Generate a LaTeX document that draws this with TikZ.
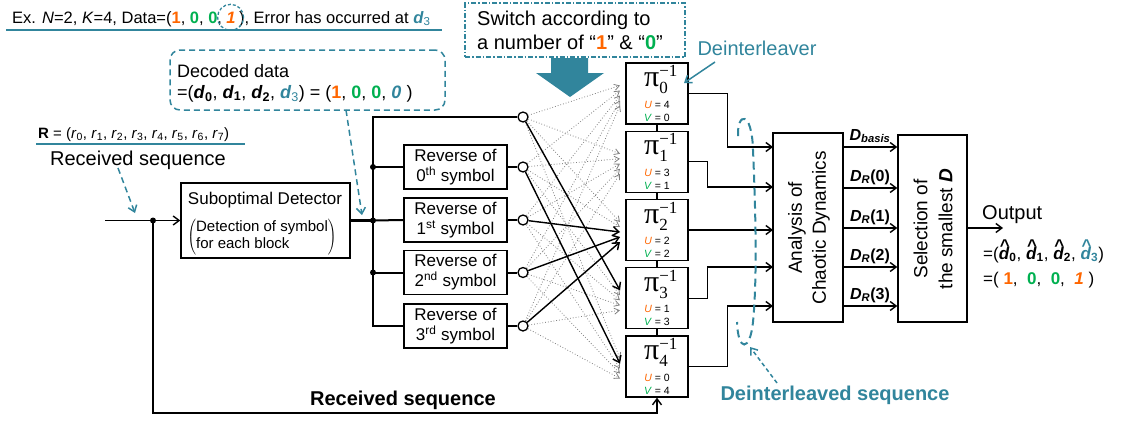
\documentclass[tikz,border=0pt]{standalone}
\usepackage{fontspec}
\setmainfont{Liberation Sans}
\newfontfamily\serifgr{Liberation Serif}
\usetikzlibrary{arrows.meta}
\definecolor{teal1}{RGB}{49,133,156}
\definecolor{orng}{RGB}{255,102,0}
\definecolor{grn}{RGB}{0,176,80}
\newcommand\fs[2]{\fontsize{#1}{#2}\selectfont}
\newcommand\bo{{\color{orng}\textbf{1}}}
\newcommand\bz{{\color{grn}\textbf{0}}}
\newcommand\bio{{\color{orng}\textbf{\textit{1}}}}
\newcommand\bd[1]{\textbf{\textit{d}}\textsubscript{\textbf{#1}}}
\newcommand\hatd[1]{\ooalign{\textbf{\textit{d}}\cr\hidewidth\kern1.5pt\raisebox{0.45em}{\textbf{\textasciicircum}}\hidewidth\cr}\textsubscript{\textbf{#1}}}
\newcommand\piinv[1]{{\serifgr\fs{30}{30}π}\rlap{\raisebox{10pt}{\serifgr\fs{17}{17}−1}}\raisebox{-7pt}{\serifgr\fs{17}{17}#1}}
\begin{document}
\begin{tikzpicture}[x=1pt,y=-1pt,
  box/.style={draw, line width=1.4pt, inner sep=0},
  ln/.style={line width=1.4pt},
  arr/.style={line width=1.4pt, -{Straight Barb[length=6pt,width=9pt]}},
  gra/.style={gray, dotted, line width=0.8pt, -{Straight Barb[length=5pt,width=6pt]}},
  tdash/.style={teal1, dash pattern=on 6pt off 4pt, line width=1.5pt},
  dot/.style={circle, fill, inner sep=0, minimum size=6pt},
  sw/.style={circle, draw, fill=white, line width=1.3pt, inner sep=0, minimum size=10pt},
  txt/.style={inner sep=0}]
\useasboundingbox (0,0) rectangle (1127,421);

% top line
\node[txt, anchor=base west, font=\fs{16.5}{20}] (ex1) at (12,23) {Ex. \textit{N}=2, \textit{K}=4, Data=(\bo, \bz, \bz,};
\node[txt, anchor=base west, font=\fs{16.5}{20}] (one) at (ex1.base east) {\kern4pt\bio\kern3pt};
\node[txt, anchor=base west, font=\fs{16.5}{20}] (ex2) at (one.base east) {), Error has occurred at {\color{teal1}\textbf{\textit{d}}\textsubscript{3}}};
\draw[teal1, dash pattern=on 3pt off 2pt, line width=1.3pt] (one.center) circle[radius=13pt];
\draw[teal1, line width=2.5pt] (6,30) -- (442,30);

% switch box and big arrow
\node[draw=teal1, line width=1.2pt, dash pattern=on 5pt off 2pt on 1.5pt off 2pt, minimum width=220pt, minimum height=54pt, inner sep=0] (sw) at (575,30) {};
\node[txt, anchor=west, align=left, font=\fs{20}{24}] (swt) at (477,30) {Switch according to\\a number of “{\color{orng}\textbf{1}}” \& “{\color{grn}\textbf{0}}”};
\fill[teal1] (551,58) -- (588,58) -- (588,73) -- (604,73) -- (570,97) -- (536,73) -- (551,73) -- cycle;

% decoded data
\node[tdash, draw, rounded corners=10pt, minimum width=275pt, minimum height=60pt, inner sep=0] (dec) at (307.5,80) {};
\node[txt, anchor=west, align=left, font=\fs{18}{21}] (dect) at (177,83) {Decoded data\\=(\bd{0}, \bd{1}, \bd{2}, {\color{teal1}\textbf{\textit{d}}\textsubscript{3}}) = (\bo, \bz, \bz, {\color{teal1}\textbf{\textit{0}}} )};

% R label
\node[txt, anchor=base west, font=\fs{15}{18}] (Rl) at (38,138) {\textbf{R} = (\textit{r}\textsubscript{0}, \textit{r}\textsubscript{1}, \textit{r}\textsubscript{2}, \textit{r}\textsubscript{3}, \textit{r}\textsubscript{4}, \textit{r}\textsubscript{5}, \textit{r}\textsubscript{6}, \textit{r}\textsubscript{7})};
\draw[teal1, line width=2pt] (36,144) -- (245,144);
\node[txt, font=\fs{20}{24}] (recv) at (138,160) {Received sequence};

% detector
\node[box, minimum width=169pt, minimum height=75pt] (det) at (265.5,220.5) {};
\node[txt, font=\fs{17}{20}] (dett1) at (265,200) {Suboptimal Detector};
\node[txt, font=\fs{15}{17}] (dett2) at (262,237) {$\left(\vcenter{\hbox{\begin{tabular}{@{}l@{}}Detection of symbol\\for each block\end{tabular}}}\right)$};

\coordinate (in) at (105,220.5);
\coordinate (jn) at (153,220.5);
\coordinate (bl) at (153,413);
\coordinate (br) at (657,413);
\draw[arr] (in) -- (det.west);
\node[dot] (jnd) at (jn) {};
\coordinate (rs) at (118,168);
\draw[tdash, -{Straight Barb[length=6pt,width=9pt]}] (rs) -- (135,213);

% reverse boxes
\foreach \i/\y/\s in {0/167/th,1/220/st,2/272.5/nd,3/326/rd}{
  \node[box, minimum width=103pt, minimum height=44pt, align=center, font=\fs{17}{20}] (rev\i) at (455.5,\y) {Reverse of\\\i\textsuperscript{\s} symbol};
}
\foreach \i/\y in {0/117,1/167,2/220,3/272.5,4/326}{
  \node[sw] (c\i) at (523,\y) {};
}
\coordinate (busT) at (373,117);
\coordinate (busB) at (373,326);
\coordinate (bus0) at (373,167);
\coordinate (bus1) at (373,220.5);
\coordinate (bus2) at (373,272.5);
\draw[line width=2.4pt] (det.east) -- (bus1);
\draw[ln] (c0.west) -- (busT) -- (busB) -- (rev3.west);
\draw[ln] (bus0) -- (rev0.west);
\draw[line width=2pt] (bus1) -- (rev1.west);
\draw[line width=2pt] (bus2) -- (rev2.west);
\foreach \j in {0,1,2}{\node[dot] at (bus\j) {};}
\draw[ln] (rev0.east) -- (c1.west);
\draw[line width=2pt] (rev1.east) -- (c2.west);
\draw[line width=2pt] (rev2.east) -- (c3.west);
\draw[line width=2pt] (rev3.east) -- (c4.west);

% decoded data arrow
\coordinate (decs) at (346,110);
\draw[tdash, -{Straight Barb[length=6pt,width=9pt]}] (decs) -- (362,215);

% pi boxes
\foreach \k/\u in {0/4,1/3,2/2,3/1,4/0}{
  \pgfmathsetmacro\cy{93.5+68.25*\k}
  \node[box, minimum width=62pt, minimum height=61pt] (p\k) at (657,\cy) {};
  \node[txt, anchor=base west] (pl\k) at (644,\cy-7) {\piinv{\k}};
  \node[txt, anchor=base, font=\fs{10.5}{12}] (pu\k) at (657,\cy+14.5) {{\color{orng}\textit{U}} = \u};
  \node[txt, anchor=base, font=\fs{10.5}{12}] (pv\k) at (657,\cy+27.5) {{\color{grn}\textit{V}} = \k};
}
\foreach \a/\b in {0/1,1/2,2/3,3/4}{\draw[ln] (p\a.south) -- (p\b.north);}

% gray switching arrows
\foreach \k in {0,...,4}{
  \foreach \i in {0,...,4}{
    \coordinate (t-\k-\i) at (620,{93.5+68.25*\k-8+5*\i});
    \draw[gra] (c\i) -- (t-\k-\i);
  }
}
\draw[arr] (c0) -- (t-3-0);
\draw[arr] (c1) -- (t-4-1);
\draw[arr] (c2) -- (t-2-2);
\draw[arr] (c3) -- (t-2-3);
\draw[arr] (c4) -- (t-2-4);

% bottom received sequence line
\draw[arr] (jn) -- (bl) -- (br) -- (p4.south);
\node[txt, font=\bfseries\fs{20}{24}] (rsb) at (403,400) {Received sequence};

% analysis and selection
\node[box, minimum width=70pt, minimum height=189pt] (ana) at (808,227.5) {};
\node[txt, rotate=90, align=center, font=\fs{19}{24}] (anat) at (809,228) {Analysis of\\Chaotic Dynamics};
\node[box, minimum width=69pt, minimum height=187pt] (sel) at (932.5,228.5) {};
\node[txt, rotate=90, align=center, font=\fs{19}{25}] (selt) at (933,229) {Selection of\\the smallest \textbf{\textit{D}}};

\coordinate (ai0) at (773,147);
\coordinate (ai1) at (773,187);
\coordinate (ai2) at (773,230);
\coordinate (ai3) at (773,267);
\coordinate (ai4) at (773,306);
\draw[arr] (p0.east) -- ++(39,0) |- (ai0);
\draw[arr] (p1.east) -- ++(19,0) |- (ai1);
\draw[arr] (p2.east) -- (ai2);
\draw[arr] (p3.east) -- ++(19,0) |- (ai3);
\draw[arr] (p4.east) -- ++(39,0) |- (ai4);

\foreach \j/\y/\lab in {0/147/{\textit{D}\textsubscript{\textit{basis}}},1/188/{\textit{D}\textsubscript{\textit{R}}(0)},2/228/{\textit{D}\textsubscript{\textit{R}}(1)},3/267/{\textit{D}\textsubscript{\textit{R}}(2)},4/306/{\textit{D}\textsubscript{\textit{R}}(3)}}{
  \draw[arr] (ana.east |- 0,\y) -- (sel.west |- 0,\y);
  \node[txt, anchor=base, font=\bfseries\fs{16}{18}] (dl\j) at (870,\y-7) {\lab};
}

% output
\coordinate (outp) at (1003,228);
\draw[arr] (sel.east |- outp) -- (outp);
\node[txt, anchor=base west, font=\fs{20}{24}] (outl) at (982,219) {Output};
\node[txt, anchor=base west, font=\fs{17}{20}] (outd) at (983,259) {=(\hatd{0}, \hatd{1}, \hatd{2}, {\color{teal1}\hatd{3}})};
\node[txt, anchor=base west, font=\fs{17}{20}] (outv) at (983,284) {=( \bo,~ \bz,~ \bz,~ \bio~)};

% deinterleaver annotations
\node[txt, font=\fs{20}{24}, text=teal1] (dil) at (757,48) {Deinterleaver};
\coordinate (dile) at (684,83);
\draw[teal1, line width=1.5pt, -{Straight Barb[length=6pt,width=9pt]}] (715,62) -- (dile);
\draw[teal1, line width=2pt, dash pattern=on 8pt off 5pt] (738,136) .. controls (737,112) and (752,110) .. (753,150) .. controls (756,220) and (757,280) .. (753,322) .. controls (750,352) and (738,352) .. (737,322);
\node[txt, font=\bfseries\fs{20}{24}, text=teal1] (dsl) at (835,395) {Deinterleaved sequence};
\draw[teal1, line width=1.5pt, dash pattern=on 4pt off 3pt, -{Straight Barb[length=6pt,width=9pt]}] (777,383) -- (750,347);
\end{tikzpicture}
\end{document}
